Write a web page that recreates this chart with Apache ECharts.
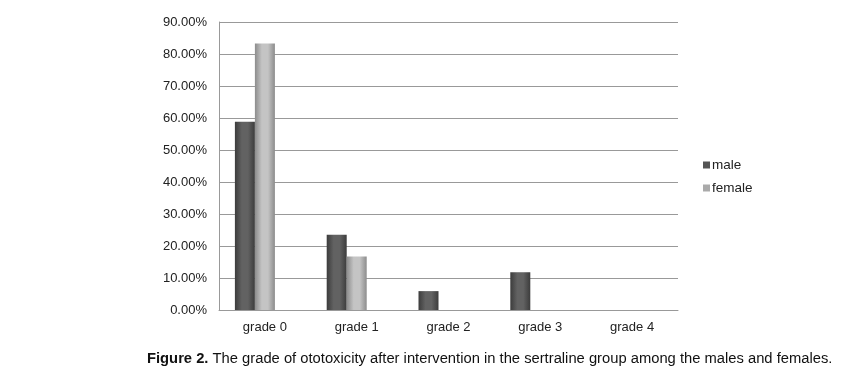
<!DOCTYPE html>
<html><head><meta charset="utf-8">
<script src="https://cdn.jsdelivr.net/npm/echarts@6/dist/echarts.min.js"></script>
<style>html,body{margin:0;padding:0;background:#fff}#c{width:849px;height:371px}</style>
</head><body><div id="c"></div>
<script>
const categories = ['grade 0', 'grade 1', 'grade 2', 'grade 3', 'grade 4'];
const maleValues = [58.8, 23.5, 5.9, 11.8, 0];
const femaleValues = [83.3, 16.7, 0, 0, 0];
const yTicks = [0, 10, 20, 30, 40, 50, 60, 70, 80, 90];

function grad(edge, mid) {
  return new echarts.graphic.LinearGradient(0, 0, 1, 0, [
    {offset: 0, color: edge}, {offset: 0.35, color: mid}, {offset: 0.65, color: mid}, {offset: 1, color: edge}
  ]);
}
const chart = echarts.init(document.getElementById('c'), null, {renderer: 'canvas'});
chart.setOption({
  animation: false,
  backgroundColor: '#fff',
  textStyle: {fontFamily: 'Liberation Sans, Arial, sans-serif'},
  grid: {left: 219, right: 171, top: 22, bottom: 61},
  legend: {
    orient: 'vertical', left: 698, top: 153, itemWidth: 7, itemHeight: 7, itemGap: 9, icon: 'rect',
    data: [{name: 'male', itemStyle: {color: '#555'}}, {name: 'female', itemStyle: {color: '#aaa'}}],
    textStyle: {fontSize: 13.5, color: '#222', padding: [0, 0, 0, -3]}
  },
  xAxis: {
    type: 'category', data: categories,
    axisLine: {lineStyle: {color: '#999'}}, axisTick: {show: false},
    axisLabel: {fontSize: 13, color: '#222', margin: 11}
  },
  yAxis: {
    type: 'value', min: 0, max: 90, interval: 10,
    axisLine: {show: true, lineStyle: {color: '#999'}}, axisTick: {show: false},
    splitLine: {lineStyle: {color: '#999'}},
    axisLabel: {fontSize: 13, color: '#222', margin: 12, formatter: v => yTicks.includes(v) ? v.toFixed(2) + '%' : ''}
  },
  series: [
    {name: 'male', type: 'bar', data: maleValues, barWidth: 20, barGap: '0%', barCategoryGap: '35%',
     itemStyle: {color: grad('#3c3c3c', '#626262')}},
    {name: 'female', type: 'bar', data: femaleValues, barWidth: 20, barGap: '0%',
     itemStyle: {color: grad('#8c8c8c', '#c4c4c4')}},
    {name: 'blank', type: 'bar', data: ['-', '-', '-', '-', '-'], barWidth: 20, barGap: '0%'}
  ],
  graphic: [{
    type: 'text', left: 147, top: 351,
    style: {rich: {b: {fontWeight: 'bold', fontSize: 14.75, fontFamily: 'Liberation Sans, Arial, sans-serif', fill: '#111'},
                   n: {fontSize: 14.75, fontFamily: 'Liberation Sans, Arial, sans-serif', fill: '#111'}},
            text: '{b|Figure 2.}{n| The grade of ototoxicity after intervention in the sertraline group among the males and females.}'}
  }]
});
</script></body></html>
